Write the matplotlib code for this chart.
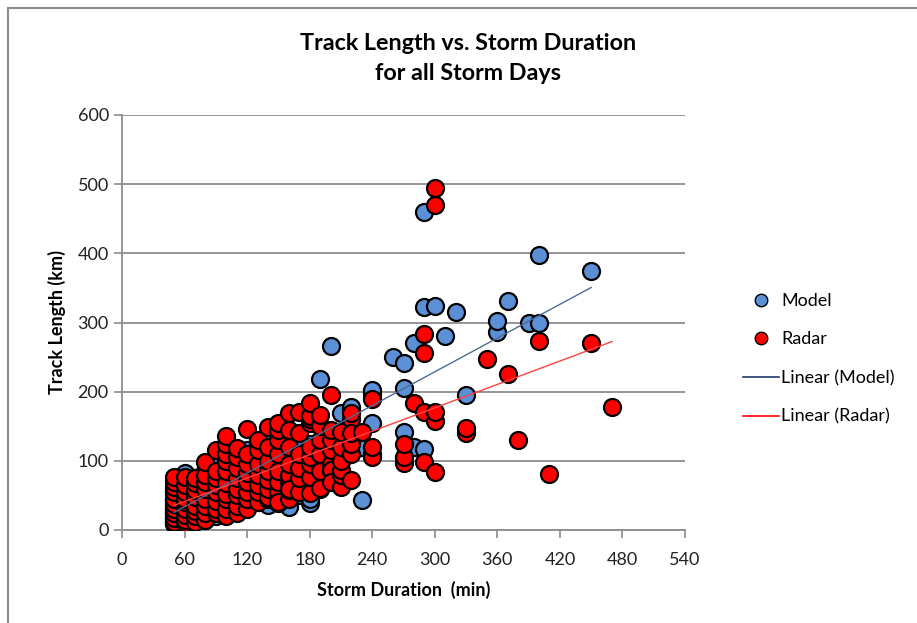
import numpy as np
import matplotlib.pyplot as plt
from matplotlib.lines import Line2D
from matplotlib.patches import Rectangle

plt.rcParams['font.family'] = ['Lato', 'DejaVu Sans']

# storm duration (min) and track length (km), model storms
model_dur = ([50] * 13 + [60] * 9 + [70] * 7 + [80] * 6 + [90] * 6 + [100] * 6
             + [110] * 5 + [120] * 5 + [130] * 5 + [140] * 6 + [150] * 4
             + [160] * 5 + [170] * 4 + [180] * 5 + [190] * 4 + [200] * 6
             + [210] * 3 + [220] * 4 + [230] * 2 + [240] * 5 + [260]
             + [270] * 3 + [280] * 2 + [290] * 3 + [300, 310, 320, 330]
             + [360] * 2 + [370, 390] + [400] * 2 + [450])
model_len = [10, 15, 20, 25, 30, 35, 40, 45, 50, 55, 60, 18, 28,
             12, 20, 30, 40, 50, 60, 70, 83, 25,
             15, 25, 35, 45, 55, 65, 75,
             15, 25, 40, 55, 70, 85,
             20, 35, 50, 65, 80, 95,
             25, 40, 60, 80, 100, 115,
             30, 45, 70, 90, 110,
             35, 55, 75, 95, 115,
             40, 60, 85, 105, 125,
             36, 55, 80, 100, 120, 140,
             45, 70, 95, 120,
             33, 60, 90, 115, 133,
             50, 80, 110, 133,
             39, 45, 70, 100, 125,
             60, 90, 120, 219,
             72, 80, 110, 130, 140, 266,
             100, 130, 169,
             120, 140, 175, 178,
             43, 120,
             110, 155, 195, 200, 202,
             250,
             142, 205, 241,
             120, 270,
             117, 322, 460,
             324, 280, 315, 195,
             286, 302,
             331, 300,
             300, 398,
             375]

# radar-observed storms
radar_dur = ([50] * 11 + [60] * 9 + [70] * 8 + [80] * 8 + [90] * 8 + [100] * 10
             + [110] * 8 + [120] * 8 + [130] * 7 + [140] * 8 + [150] * 9
             + [160] * 9 + [170] * 6 + [180] * 9 + [190] * 6 + [200] * 8
             + [210] * 6 + [220] * 6 + [230, 240, 240, 240]
             + [270] * 3 + [280] + [290] * 4 + [300] * 5 + [330] * 2
             + [350, 370, 380, 400, 410, 450, 470])
radar_len = [8, 12, 18, 25, 30, 38, 45, 55, 62, 70, 77,
             10, 15, 22, 30, 40, 45, 55, 65, 77,
             12, 20, 28, 35, 48, 58, 68, 75,
             15, 25, 35, 45, 60, 70, 80, 98,
             25, 30, 42, 55, 65, 75, 85, 115,
             20, 30, 45, 52, 68, 85, 100, 110, 125, 136,
             25, 35, 50, 60, 75, 90, 105, 118,
             30, 45, 55, 70, 82, 95, 110, 146,
             40, 55, 65, 80, 95, 115, 130,
             45, 48, 60, 72, 85, 100, 120, 149,
             39, 55, 70, 85, 110, 130, 145, 154, 40,
             45, 58, 70, 80, 95, 120, 145, 169, 60,
             55, 75, 90, 110, 140, 171,
             53, 77, 95, 105, 120, 155, 161, 165, 183,
             61, 85, 110, 130, 150, 166,
             85, 95, 115, 130, 145, 195, 87, 70,
             62, 80, 87, 100, 120, 142,
             72, 110, 125, 160, 169, 140,
             142, 106, 120, 189,
             97, 106, 125,
             183,
             98, 171, 256, 283,
             84, 158, 171, 470, 494,
             140, 147,
             247, 225, 130, 273, 81, 270, 178]

# linear trendlines (slope, intercept)
model_fit = [0.813, -15.2]
radar_fit = [0.564, 7.4]

blue = '#5B8FD6'
red = '#FF0000'

fig = plt.figure(figsize=(9.17, 6.23), dpi=100)
ax = fig.add_axes([122 / 917, 93 / 623, 563 / 917, 415 / 623])

ax.scatter(model_dur, model_len, s=150, c=blue, edgecolors='black',
           linewidths=1.6, zorder=3)
ax.scatter(radar_dur, radar_len, s=150, c=red, edgecolors='black',
           linewidths=1.6, zorder=4)

xm = np.array([min(model_dur), max(model_dur)])
ax.plot(xm, np.polyval(model_fit, xm), color='#4F6A96', lw=1.0, zorder=5)
xr = np.array([min(radar_dur), max(radar_dur)])
ax.plot(xr, np.polyval(radar_fit, xr), color='#FF4040', lw=1.0, zorder=5)

ax.set_xlim(0, 540)
ax.set_ylim(0, 600)
ax.set_xticks(np.arange(0, 541, 60))
ax.set_yticks(np.arange(0, 601, 100))
ax.grid(axis='y', color='#8C8C8C', lw=1.3)
ax.set_axisbelow(True)
for s in ['top', 'right']:
    ax.spines[s].set_visible(False)
for s in ['left', 'bottom']:
    ax.spines[s].set_color('#8C8C8C')
    ax.spines[s].set_linewidth(1.3)
ax.tick_params(length=6, width=1.2, color='#8C8C8C', labelsize=13,
               labelcolor='#222222')
ax.tick_params(axis='x', pad=10)

ax.set_xlabel('Storm Duration  (min)', fontsize=13, fontweight='bold',
              labelpad=9)
ax.set_ylabel('Track Length (km)', fontsize=13, fontweight='bold',
              labelpad=8)

fig.text(0.51, 0.93, 'Track Length vs. Storm Duration', ha='center',
         va='center', fontsize=16.8, fontweight='bold')
fig.text(0.51, 0.882, 'for all Storm Days', ha='center', va='center',
         fontsize=16.8, fontweight='bold')

handles = [
    Line2D([], [], ls='none', marker='o', ms=9, mfc=blue, mec='black',
           mew=1.0, label='Model'),
    Line2D([], [], ls='none', marker='o', ms=9, mfc=red, mec='black',
           mew=1.0, label='Radar'),
    Line2D([], [], color='#1F3A6B', lw=1.2, label='Linear (Model)'),
    Line2D([], [], color='#FF0000', lw=1.2, label='Linear (Radar)'),
]
fig.legend(handles=handles, loc='center left', bbox_to_anchor=(0.792, 0.424),
           frameon=False, fontsize=13, labelspacing=1.25, handlelength=2.0,
           handletextpad=0.15)

fig.add_artist(Rectangle((8 / 917, -0.1), 1.1, 1 - 8 / 623 + 0.1,
                         transform=fig.transFigure, fill=False,
                         edgecolor='#8C8C8C', lw=1.5, clip_on=False))

fig.savefig('out.png', dpi=100)
